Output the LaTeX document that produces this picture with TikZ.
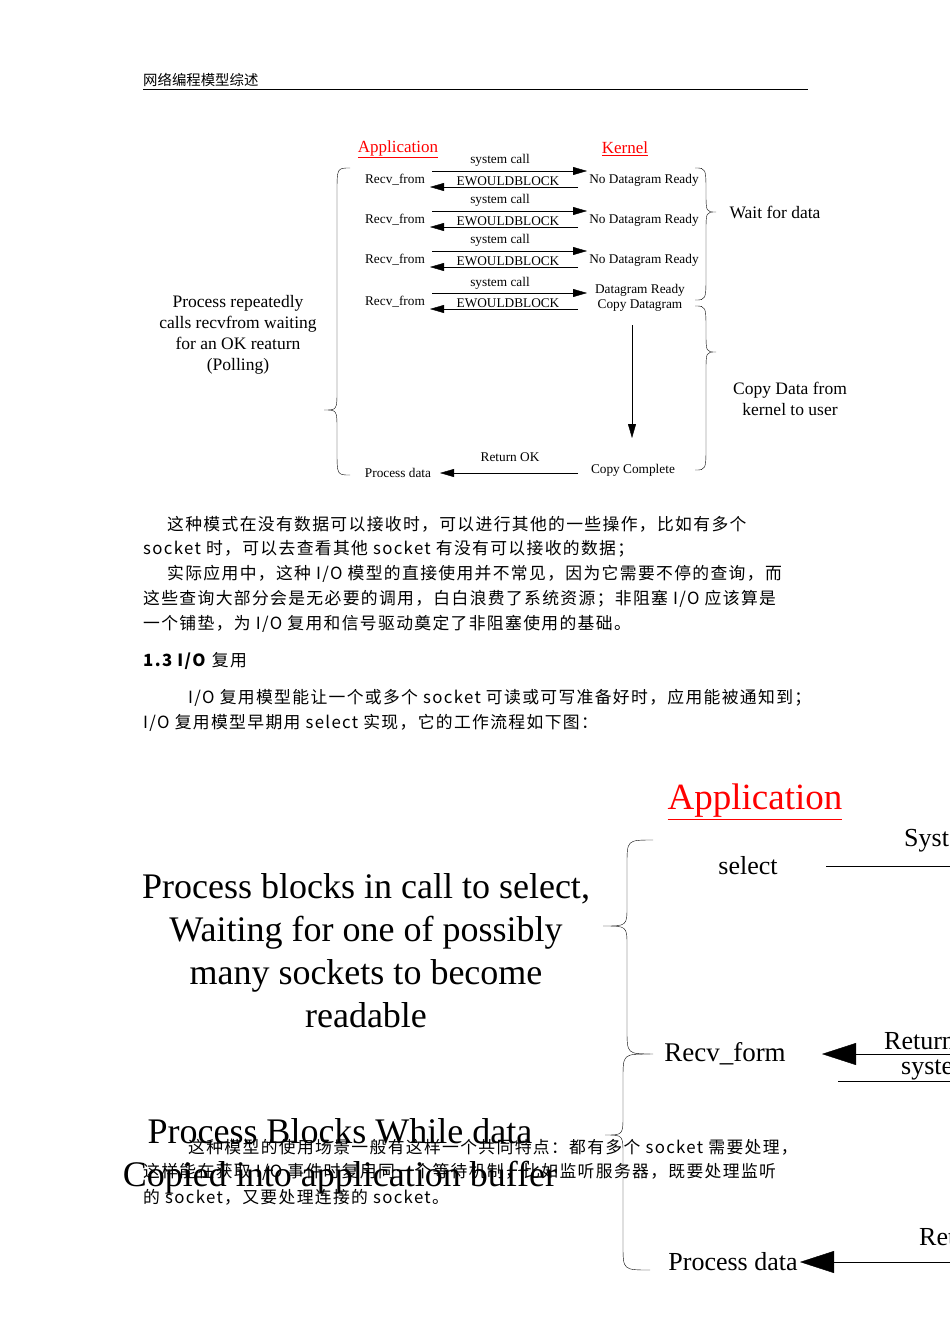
\documentclass[tikz,border=0pt]{standalone}
\usepackage{fontspec}
\setmainfont{Liberation Serif}
\newfontfamily\cjk{Noto Sans CJK SC}
\newfontfamily\cjkw{Noto Sans CJK SC}[LetterSpace=8]
\usetikzlibrary{arrows.meta}
\newcommand\mybrace[6]{% xend, xspine, xtip, ytop, ytip, ybot
  \draw[thin] (#1,#4) .. controls (#2,#4) .. (#2,#4+25) -- (#2,#5-20) .. controls (#2,#5) .. (#3,#5)
   .. controls (#2,#5) .. (#2,#5+20) -- (#2,#6-25) .. controls (#2,#6) .. (#1,#6);}
\tikzset{
 sm/.style={font=\fontsize{13.3}{14.5}\selectfont, inner sep=1pt},
 hd/.style={font=\fontsize{17}{18}\selectfont, text=red, inner sep=1pt},
 mid/.style={font=\fontsize{17.5}{21}\selectfont, align=center},
 big/.style={font=\fontsize{36}{43}\selectfont, align=center},
 bt/.style={font=\cjkw\fontsize{16.8}{18}\selectfont, anchor=west, inner sep=0pt},
 arr/.style={-{Triangle[length=14pt,width=8pt]}, thin},
 barr/.style={-{Triangle[length=34pt,width=22pt]}, thin},
}
\begin{document}
\begin{tikzpicture}[x=1pt,y=-1pt]
\useasboundingbox (0,0) rectangle (950,1344);
\clip (0,0) rectangle (950,1344);
\fill[white] (0,0) rectangle (950,1344);
% header
\node[anchor=west, font=\cjk\fontsize{14.4}{15}\selectfont, inner sep=0pt] (hdr) at (143,80) {网络编程模型综述};
\draw[thin] (143,89) -- (808,89);
% top diagram
\node[hd] (app1) at (398,149) {\underline{Application}};
\node[hd] (ker1) at (625,149) {\underline{Kernel}};
\foreach \i/\y/\k in {1/180/No Datagram Ready,2/220/No Datagram Ready,3/260/No Datagram Ready}{
  \node[sm] (r\i) at (395,\y) {Recv\_from};
  \node[sm] (k\i) at (644,\y) {\k};
  \node[sm] (s\i) at (500,\y-20) {system call};
  \node[sm] (e\i) at (508,\y+1) {EWOULDBLOCK};
  \coordinate (a\i) at (432,\y-9); \coordinate (b\i) at (587,\y-9);
  \coordinate (c\i) at (578,\y+7); \coordinate (d\i) at (430,\y+7);
  \draw[arr] (a\i) -- (b\i);
  \draw[arr] (c\i) -- (d\i);
}
\node[sm] (r4) at (395,302) {Recv\_from};
\node[sm, align=center] (k4) at (640,298) {Datagram Ready\\Copy Datagram};
\node[sm] (s4) at (500,283) {system call};
\node[sm] (e4) at (508,303) {EWOULDBLOCK};
\coordinate (a4) at (432,293); \coordinate (b4) at (587,293);
\coordinate (c4) at (578,309); \coordinate (d4) at (430,309);
\draw[arr] (a4) -- (b4);
\draw[arr] (c4) -- (d4);
\coordinate (v1) at (632,325); \coordinate (v2) at (632,438);
\draw[arr] (v1) -- (v2);
\node[sm] (cc) at (633,470) {Copy Complete};
\node[sm] (pd1) at (398,473) {Process data};
\node[sm] (rok) at (510,457) {Return OK};
\coordinate (ra) at (578,473); \coordinate (rb) at (440,473);
\draw[arr] (ra) -- (rb);
\mybrace{350}{337}{324}{168}{410}{475}
\mybrace{695}{706}{716}{168}{212}{300}
\mybrace{695}{706}{716}{306}{352}{470}
\node[mid] (proc) at (238,335) {Process repeatedly\\calls recvfrom waiting\\for an OK reaturn\\(Polling)};
\node[mid] (wait) at (775,212) {Wait for data};
\node[mid] (copy) at (790,399) {Copy Data from\\kernel to user};
% body text
\node[bt] (t1) at (167,524) {这种模式在没有数据可以接收时，可以进行其他的一些操作，比如有多个};
\node[bt] (t2) at (143,549) {socket 时，可以去查看其他 socket 有没有可以接收的数据；};
\node[bt] (t3) at (167,574) {实际应用中，这种 I/O 模型的直接使用并不常见，因为它需要不停的查询，而};
\node[bt] (t4) at (143,599) {这些查询大部分会是无必要的调用，白白浪费了系统资源；非阻塞 I/O 应该算是};
\node[bt] (t5) at (143,624) {一个铺垫，为 I/O 复用和信号驱动奠定了非阻塞使用的基础。};
\node[bt] (t6) at (143,661) {\textbf{1.3 I/O} 复用};
\node[bt] (t7) at (188,698) {I/O 复用模型能让一个或多个 socket 可读或可写准备好时，应用能被通知到；};
\node[bt] (t8) at (143,723) {I/O 复用模型早期用 select 实现，它的工作流程如下图：};
% bottom diagram
\node[font=\fontsize{37}{38}\selectfont, text=red, inner sep=1pt] (app2) at (755,802) {\underline{Application}};
\node[big] (pb) at (366,951) {Process blocks in call to select,\\Waiting for one of possibly\\many sockets to become\\readable};
\node[font=\fontsize{26}{28}\selectfont, inner sep=1pt] (sel) at (748,866) {select};
\node[font=\fontsize{26}{28}\selectfont, anchor=west, inner sep=1pt] (sys) at (903,840) {System call};
\coordinate (l1) at (826,866); \coordinate (l2) at (960,866);
\draw[thin] (l1) -- (l2);
\node[font=\fontsize{27}{28}\selectfont, inner sep=1pt] (rf) at (725,1054) {Recv\_form};
\node[font=\fontsize{26}{28}\selectfont, anchor=west, inner sep=1pt] (ret) at (883,1041) {Return readable};
\node[font=\fontsize{26}{28}\selectfont, anchor=west, inner sep=1pt] (sys2) at (900,1068) {system call};
\coordinate (m1) at (960,1054); \coordinate (m2) at (822,1054);
\draw[barr] (m1) -- (m2);
\coordinate (n1) at (838,1081); \coordinate (n2) at (960,1081);
\draw[thin] (n1) -- (n2);
\node[font=\fontsize{26}{28}\selectfont, inner sep=1pt] (pd2) at (733,1262) {Process data};
\node[font=\fontsize{26}{28}\selectfont, anchor=west, inner sep=1pt] (ret2) at (918,1237) {Return OK};
\coordinate (o1) at (960,1262); \coordinate (o2) at (800,1262);
\draw[barr] (o1) -- (o2);
\mybrace{653}{627}{603}{840}{926}{1054}
\mybrace{650}{623}{605}{1054}{1135}{1270}
\node[big] (pbw) at (340,1156) {Process Blocks While data\\Copied into application buffer};
\node[bt] (u1) at (188,1147) {这种模型的使用场景一般有这样一个共同特点：都有多个 socket 需要处理，};
\node[bt] (u2) at (143,1172) {这样能在获取 I/O 事件时复用同一个等待机制，比如监听服务器，既要处理监听};
\node[bt] (u3) at (143,1197) {的 socket，又要处理连接的 socket。};
\end{tikzpicture}
\end{document}
